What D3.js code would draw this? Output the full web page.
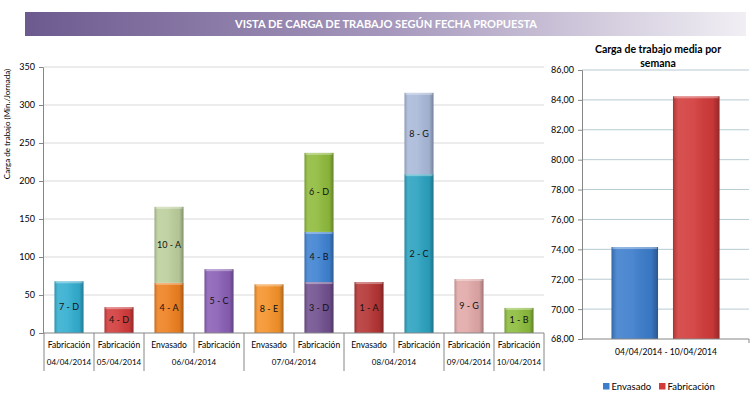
<!DOCTYPE html>
<html>
<head>
<meta charset="utf-8">
<script src="https://cdn.jsdelivr.net/npm/d3@7"></script>
<style>
  body { margin: 0; background: #fff; }
  text { font-family: Lato, "Open Sans", sans-serif; }
</style>
</head>
<body>
<div id="chart"></div>
<script>
// slots on the left chart (one bar each)
var slotType = ["Fabricación", "Fabricación", "Envasado", "Fabricación", "Envasado",
                "Fabricación", "Envasado", "Fabricación", "Fabricación", "Fabricación"];
var slotDate = ["04/04/2014", "05/04/2014", "06/04/2014", "06/04/2014", "07/04/2014",
                "07/04/2014", "08/04/2014", "08/04/2014", "09/04/2014", "10/04/2014"];

// stacked segments: which slot, label, minutes
var segSlot  = [0, 1, 2, 2, 3, 4, 5, 5, 5, 6, 7, 7, 8, 9];
var segLabel = ["7 - D", "4 - D", "4 - A", "10 - A", "5 - C", "8 - E", "3 - D", "4 - B", "6 - D",
                "1 - A", "2 - C", "8 - G", "9 - G", "1 - B"];
var segValue = [68, 34, 66, 100, 84, 64, 67, 66, 104, 67, 209, 107, 71, 33];

var leftTicks = [0, 50, 100, 150, 200, 250, 300, 350];

// weekly average chart
var weekTypes  = ["Envasado", "Fabricación"];
var weekValues = [74.15, 84.24];
var weekLabel  = "04/04/2014 - 10/04/2014";
var rightTicks = [68, 70, 72, 74, 76, 78, 80, 82, 84, 86];

var segColors = ["#33aed0", "#d23b3b", "#ee8020", "#bccf9c", "#8a5fb6", "#f5922a", "#71508f",
                 "#3f82d2", "#8fbb3c", "#b53434", "#2ba2c0", "#a9b9d9", "#e2a8a8", "#8cbc3c"];
var weekColors = ["#3c7dcc", "#d23a3a"];

var svg = d3.select("#chart").append("svg")
            .attr("width", 752)
            .attr("height", 397);

var defs = svg.append("defs");

var tg = defs.append("linearGradient").attr("id", "titleGrad");
tg.append("stop").attr("offset", "0%").attr("stop-color", "#6c5a8f");
tg.append("stop").attr("offset", "50%").attr("stop-color", "#a597bc");
tg.append("stop").attr("offset", "100%").attr("stop-color", "#f1eff4");

var sh = defs.append("linearGradient").attr("id", "shade");
sh.append("stop").attr("offset", "0%").attr("stop-color", "#000").attr("stop-opacity", 0.18);
sh.append("stop").attr("offset", "12%").attr("stop-color", "#fff").attr("stop-opacity", 0.12);
sh.append("stop").attr("offset", "45%").attr("stop-color", "#fff").attr("stop-opacity", 0.08);
sh.append("stop").attr("offset", "85%").attr("stop-color", "#000").attr("stop-opacity", 0.05);
sh.append("stop").attr("offset", "100%").attr("stop-color", "#000").attr("stop-opacity", 0.3);

// title bar
svg.append("rect")
   .attr("x", 25).attr("y", 12).attr("width", 721).attr("height", 24)
   .attr("fill", "url(#titleGrad)");
svg.append("text")
   .attr("x", 386).attr("y", 28)
   .attr("text-anchor", "middle")
   .attr("fill", "#fff")
   .style("font-size", "11px")
   .style("font-weight", "bold")
   .attr("textLength", 302)
   .attr("lengthAdjust", "spacingAndGlyphs")
   .text("VISTA DE CARGA DE TRABAJO SEGÚN FECHA PROPUESTA");

// ---------- left chart ----------
var x = d3.scaleBand().domain(d3.range(slotType.length))
          .range([44, 544]).paddingInner(0.42).paddingOuter(0.21);
var y = d3.scaleLinear().domain([0, 350]).range([333, 67]);

svg.append("g").selectAll("line")
   .data(leftTicks.slice(1))
   .enter().append("line")
   .attr("x1", 44).attr("x2", 544)
   .attr("y1", function(d) { return y(d); })
   .attr("y2", function(d) { return y(d); })
   .attr("stroke", "#d9d9d9");

var yAxis = svg.append("g")
   .attr("transform", "translate(43,0)")
   .call(d3.axisLeft(y).tickValues(leftTicks).tickSize(4).tickPadding(4));
yAxis.select(".domain").attr("stroke", "#868686");
yAxis.selectAll(".tick line").attr("stroke", "#868686");
yAxis.selectAll("text").style("font-size", "9px").attr("fill", "#000")
     .style("font-family", "Lato, sans-serif");

svg.append("text")
   .attr("transform", "translate(10,124) rotate(-90)")
   .attr("text-anchor", "middle")
   .style("font-size", "8px")
   .text("Carga de trabajo  (Min./Jornada)");

// stacked bars
var tops = slotType.map(function() { return 0; });
var segs = segValue.map(function(v, i) {
  var s = segSlot[i];
  var seg = { slot: s, label: segLabel[i], y0: tops[s], y1: tops[s] + v, color: segColors[i] };
  tops[s] += v;
  return seg;
});

var bars = svg.append("g").selectAll("g")
   .data(segs)
   .enter().append("g");

bars.append("rect")
   .attr("x", function(d) { return x(d.slot); })
   .attr("y", function(d) { return y(d.y1); })
   .attr("width", x.bandwidth())
   .attr("height", function(d) { return y(d.y0) - y(d.y1); })
   .attr("fill", function(d) { return d.color; });
bars.append("rect")
   .attr("x", function(d) { return x(d.slot); })
   .attr("y", function(d) { return y(d.y1); })
   .attr("width", x.bandwidth())
   .attr("height", function(d) { return y(d.y0) - y(d.y1); })
   .attr("fill", "url(#shade)");
bars.append("rect")
   .attr("x", function(d) { return x(d.slot) + 1; })
   .attr("y", function(d) { return y(d.y1); })
   .attr("width", x.bandwidth() - 2)
   .attr("height", 2)
   .attr("fill", "#fff").attr("opacity", 0.35);
bars.append("text")
   .attr("x", function(d) { return x(d.slot) + x.bandwidth() / 2; })
   .attr("y", function(d) { return (y(d.y0) + y(d.y1)) / 2 + 3; })
   .attr("text-anchor", "middle")
   .style("font-size", "9px")
   .attr("fill", "#111")
   .text(function(d) { return d.label; });

// x axis with two label rows
svg.append("line")
   .attr("x1", 43).attr("x2", 544).attr("y1", 333).attr("y2", 333)
   .attr("stroke", "#868686");

var step = x.step();
var x0 = x.range()[0];
d3.range(slotType.length + 1).forEach(function(i) {
  var long = i === 0 || i === slotType.length || slotDate[i] !== slotDate[i - 1];
  svg.append("line")
     .attr("x1", x0 + i * step).attr("x2", x0 + i * step)
     .attr("y1", 333).attr("y2", long ? 371 : 353)
     .attr("stroke", "#868686");
});

svg.append("g").selectAll("text")
   .data(slotType)
   .enter().append("text")
   .attr("x", function(d, i) { return x(i) + x.bandwidth() / 2; })
   .attr("y", 348)
   .attr("text-anchor", "middle")
   .style("font-size", "8.5px")
   .text(function(d) { return d; });

var dateGroups = [];
slotDate.forEach(function(d, i) {
  var last = dateGroups[dateGroups.length - 1];
  if (last && last.date === d) last.end = i;
  else dateGroups.push({ date: d, start: i, end: i });
});
svg.append("g").selectAll("text")
   .data(dateGroups)
   .enter().append("text")
   .attr("x", function(d) { return (x0 + d.start * step + x0 + (d.end + 1) * step) / 2; })
   .attr("y", 365)
   .attr("text-anchor", "middle")
   .style("font-size", "8px")
   .text(function(d) { return d.date; });

// ---------- right chart ----------
var xr = d3.scaleBand().domain(weekTypes).range([582, 749]).paddingInner(0.243).paddingOuter(0.48);
var yr = d3.scaleLinear().domain([68, 86]).range([339, 70]);

svg.append("g").selectAll("line")
   .data(rightTicks.slice(1))
   .enter().append("line")
   .attr("x1", 582).attr("x2", 749)
   .attr("y1", function(d) { return yr(d); })
   .attr("y2", function(d) { return yr(d); })
   .attr("stroke", "#b7cbd3");

var yrAxis = svg.append("g")
   .attr("transform", "translate(582,0)")
   .call(d3.axisLeft(yr).tickValues(rightTicks).tickSize(4).tickPadding(4)
           .tickFormat(function(d) { return d3.format(".2f")(d).replace(".", ","); }));
yrAxis.select(".domain").attr("stroke", "#868686");
yrAxis.selectAll(".tick line").attr("stroke", "#868686");
yrAxis.selectAll("text").style("font-size", "9px").attr("fill", "#000")
      .style("font-family", "Lato, sans-serif");

var wbars = svg.append("g").selectAll("g")
   .data(weekValues)
   .enter().append("g");
wbars.append("rect")
   .attr("x", function(d, i) { return xr(weekTypes[i]); })
   .attr("y", function(d) { return yr(d); })
   .attr("width", xr.bandwidth())
   .attr("height", function(d) { return yr(68) - yr(d); })
   .attr("fill", function(d, i) { return weekColors[i]; });
wbars.append("rect")
   .attr("x", function(d, i) { return xr(weekTypes[i]); })
   .attr("y", function(d) { return yr(d); })
   .attr("width", xr.bandwidth())
   .attr("height", function(d) { return yr(68) - yr(d); })
   .attr("fill", "url(#shade)");
wbars.append("rect")
   .attr("x", function(d, i) { return xr(weekTypes[i]) + 1; })
   .attr("y", function(d) { return yr(d); })
   .attr("width", xr.bandwidth() - 2)
   .attr("height", 2)
   .attr("fill", "#fff").attr("opacity", 0.35);

svg.append("line")
   .attr("x1", 582).attr("x2", 749).attr("y1", 339).attr("y2", 339)
   .attr("stroke", "#868686");
svg.append("line")
   .attr("x1", 749).attr("x2", 749).attr("y1", 339).attr("y2", 343)
   .attr("stroke", "#868686");

svg.append("text")
   .attr("x", 666).attr("y", 355)
   .attr("text-anchor", "middle")
   .style("font-size", "8.5px")
   .text(weekLabel);

var rt = svg.append("text")
   .attr("text-anchor", "middle")
   .style("font-size", "10.5px")
   .style("font-weight", "bold");
rt.append("tspan").attr("x", 658).attr("y", 53).text("Carga de trabajo media por");
rt.append("tspan").attr("x", 658).attr("y", 67).text("semana");

// legend
var legend = svg.append("g").selectAll("g")
   .data(weekTypes)
   .enter().append("g")
   .attr("transform", function(d, i) { return "translate(" + [603, 659][i] + ",383)"; });
legend.append("rect")
   .attr("width", 6.5).attr("height", 6.5)
   .attr("fill", function(d, i) { return weekColors[i]; });
legend.append("text")
   .attr("x", 8.5).attr("y", 7)
   .style("font-size", "9.5px")
   .text(function(d) { return d; });
</script>
</body>
</html>
